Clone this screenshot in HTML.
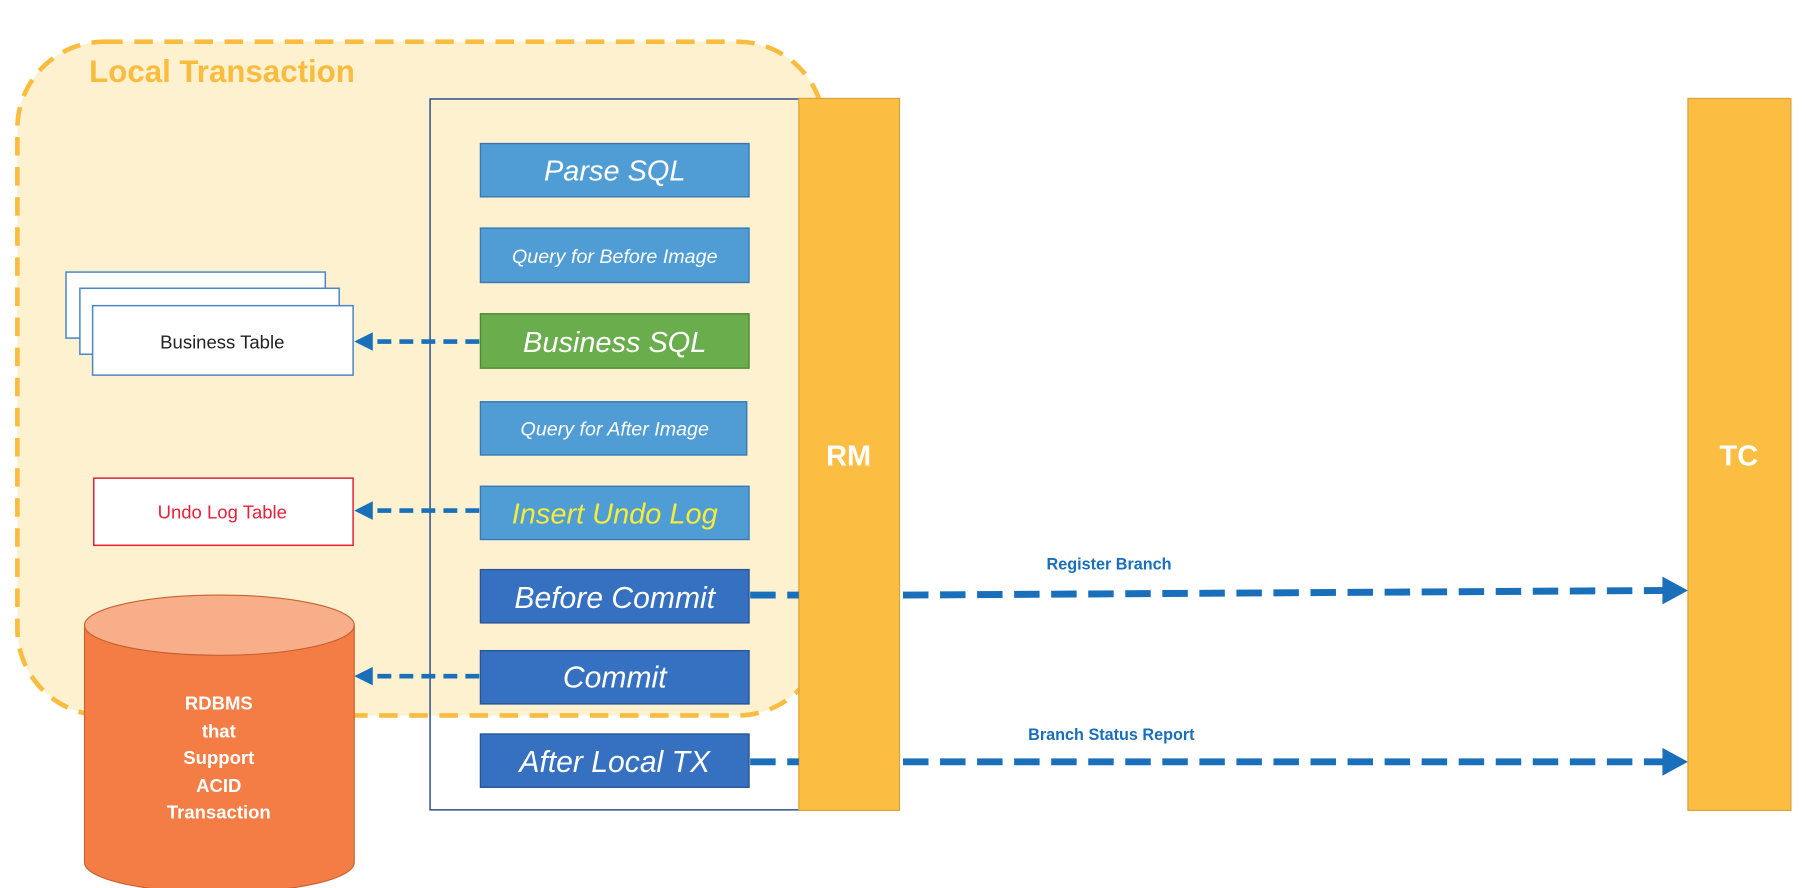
<!DOCTYPE html>
<html><head><meta charset="utf-8"><style>
html,body{margin:0;padding:0;background:#fff;width:1806px;height:888px;overflow:hidden}
svg{display:block}
text{font-family:"Liberation Sans",sans-serif}
</style></head><body>
<svg width="1806" height="888" viewBox="0 0 1560 767" preserveAspectRatio="none" xmlns="http://www.w3.org/2000/svg">
<rect x="15" y="36" width="697" height="582" rx="75" fill="#FEF1CF" stroke="#F9BC3F" stroke-width="4" stroke-dasharray="16,10"/>
<text x="77" y="71" font-size="27" font-weight="bold" fill="#F9BC3F">Local Transaction</text>
<rect x="371.5" y="85.5" width="319" height="614" fill="none" stroke="#2F528F" stroke-width="1.3"/>
<rect x="690" y="85" width="87" height="615" fill="#FBBE42" stroke="#D9A23A" stroke-width="1"/>
<text x="733" y="402" font-size="25" font-weight="bold" fill="#fff" text-anchor="middle">RM</text>
<rect x="1458" y="85" width="89" height="615" fill="#FBBE42" stroke="#D9A23A" stroke-width="1"/>
<text x="1502" y="402" font-size="25" font-weight="bold" fill="#fff" text-anchor="middle">TC</text>
<g stroke-width="1.2" font-style="italic" text-anchor="middle" fill="#fff">
<rect x="415" y="124" width="232" height="46" fill="#509DD6" stroke="#3A78B5"/>
<text x="531" y="156" font-size="25">Parse SQL</text>
<rect x="415" y="197" width="232" height="47" fill="#509DD6" stroke="#3A78B5"/>
<text x="531" y="227" font-size="17">Query for Before Image</text>
<rect x="415" y="271" width="232" height="47" fill="#6AAD4D" stroke="#4E8A35"/>
<text x="531" y="304" font-size="25">Business SQL</text>
<rect x="415" y="347" width="230" height="46" fill="#509DD6" stroke="#3A78B5"/>
<text x="531" y="376" font-size="17">Query for After Image</text>
<rect x="415" y="420" width="232" height="46" fill="#509DD6" stroke="#3A78B5"/>
<text x="531" y="452" font-size="25" fill="#F4EC3A">Insert Undo Log</text>
<rect x="415" y="492" width="232" height="46" fill="#3670C1" stroke="#2A5495"/>
<text x="531" y="525" font-size="26">Before Commit</text>
<rect x="415" y="562" width="232" height="46" fill="#3670C1" stroke="#2A5495"/>
<text x="531" y="594" font-size="26">Commit</text>
<rect x="415" y="634" width="232" height="46" fill="#3670C1" stroke="#2A5495"/>
<text x="531" y="667" font-size="26">After Local TX</text>
</g>
<rect x="57" y="235" width="224" height="57" fill="#fff" stroke="#4A86C8" stroke-width="1.3"/>
<rect x="69" y="249" width="224" height="57" fill="#fff" stroke="#4A86C8" stroke-width="1.3"/>
<rect x="80" y="264" width="225" height="60" fill="#fff" stroke="#4A86C8" stroke-width="1.3"/>
<text x="192" y="301" font-size="16" fill="#222" text-anchor="middle">Business Table</text>
<rect x="81" y="413" width="224" height="58" fill="#fff" stroke="#E8203A" stroke-width="1.3"/>
<text x="192" y="448" font-size="16" fill="#E8203A" text-anchor="middle">Undo Log Table</text>
<path d="M73,540 L73,745 A116.5,26 0 0 0 306,745 L306,540 Z" fill="#F37D45" stroke="#C9612F" stroke-width="1"/>
<ellipse cx="189.5" cy="540" rx="116.5" ry="26" fill="#F8AF89" stroke="#C9612F" stroke-width="1"/>
<g font-size="16" font-weight="bold" fill="#fff" text-anchor="middle">
<text x="189" y="613">RDBMS</text><text x="189" y="637">that</text><text x="189" y="660">Support</text><text x="189" y="684">ACID</text><text x="189" y="707">Transaction</text>
</g>
<g stroke="#1A6FBA" stroke-width="4" fill="none" stroke-dasharray="12,7">
<line x1="414" y1="295" x2="322" y2="295"/>
<line x1="414" y1="441" x2="322" y2="441"/>
<line x1="414" y1="584" x2="322" y2="584"/>
</g>
<path d="M322,287 L306,295 L322,303 Z" fill="#1A6FBA"/>
<path d="M322,433 L306,441 L322,449 Z" fill="#1A6FBA"/>
<path d="M322,576 L306,584 L322,592 Z" fill="#1A6FBA"/>
<g stroke="#1A6FBA" stroke-width="6" fill="none" stroke-dasharray="22,10">
<line x1="648" y1="514" x2="690" y2="514"/>
<line x1="648" y1="658" x2="690" y2="658"/>
<line x1="780" y1="514" x2="1440" y2="510"/>
<line x1="780" y1="658" x2="1440" y2="658"/>
</g>
<path d="M1436,498 L1458,510 L1436,522 Z" fill="#1A6FBA"/>
<path d="M1436,646 L1458,658 L1436,670 Z" fill="#1A6FBA"/>
<text x="958" y="492" font-size="14" font-weight="bold" fill="#1A6FBA" text-anchor="middle">Register Branch</text>
<text x="960" y="639" font-size="14" font-weight="bold" fill="#1A6FBA" text-anchor="middle">Branch Status Report</text>
</svg>
</body></html>
